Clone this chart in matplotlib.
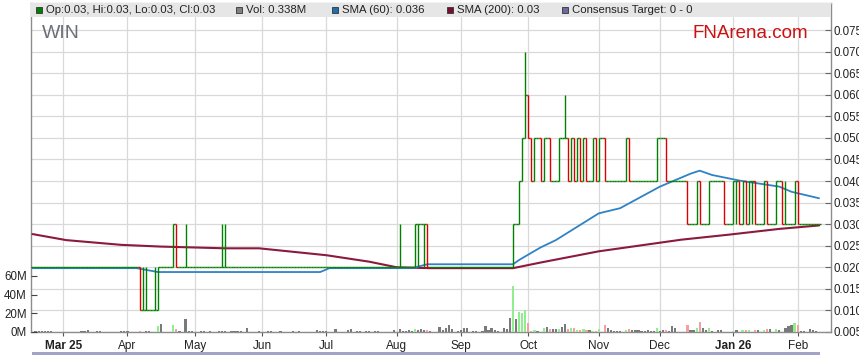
import numpy as np
import matplotlib
matplotlib.use('Agg')
import matplotlib.pyplot as plt
from matplotlib.collections import LineCollection
from matplotlib.patches import Rectangle
from matplotlib.ticker import FuncFormatter

plt.rcParams['font.family'] = ['Liberation Sans', 'DejaVu Sans']

# trading days counted from Mon 17 Feb 2025 (weekdays)
start = '2025-02-17'

# daily close in cents, 20 trading days per row
close_c = [
    2, 2, 2, 2, 2, 2, 2, 2, 2, 2, 2, 2, 2, 2, 2, 2, 2, 2, 2, 2,
    2, 2, 2, 2, 2, 2, 2, 2, 2, 2, 2, 2, 2, 2, 2, 1, 1, 1, 1, 1,
    1, 2, 2, 2, 2, 2, 3, 2, 2, 2, 2, 2, 2, 2, 2, 2, 2, 2, 2, 2,
    2, 2, 2, 2, 2, 2, 2, 2, 2, 2, 2, 2, 2, 2, 2, 2, 2, 2, 2, 2,
    2, 2, 2, 2, 2, 2, 2, 2, 2, 2, 2, 2, 2, 2, 2, 2, 2, 2, 2, 2,
    2, 2, 2, 2, 2, 2, 2, 2, 2, 2, 2, 2, 2, 2, 2, 2, 2, 2, 2, 2,
    2, 2, 2, 2, 2, 3, 3, 3, 3, 2, 2, 2, 2, 2, 2, 2, 2, 2, 2, 2,
    2, 2, 2, 2, 2, 2, 2, 2, 2, 2, 2, 2, 2, 2, 2, 2, 2, 3, 3, 4,
    5, 6, 5, 4, 5, 5, 4, 5, 5, 4, 4, 4, 5, 5, 5, 4, 5, 4, 5, 4,
    5, 4, 4, 5, 4, 5, 5, 4, 4, 4, 4, 4, 4, 4, 5, 4, 4, 4, 4, 4,
    4, 4, 4, 4, 5, 5, 5, 4, 4, 4, 4, 4, 4, 4, 3, 3, 3, 4, 3, 3,
    3, 4, 4, 4, 4, 4, 3, 3, 3, 4, 4, 3, 4, 3, 4, 4, 3, 3, 3, 4,
    3, 3, 3, 4, 4, 3, 3, 3, 3, 4, 3, 3, 3, 3, 3, 3, 3, 3,
]
# intraday extremes (cents) on days where they differ from open/close
high_extra = {36: 2, 37: 2, 40: 2, 50: 3, 62: 3, 63: 3, 120: 3, 161: 7, 174: 6, 246: 4}
low_extra = {126: 2, 128: 2, 230: 3, 235: 3}

# daily volume in millions
volume = [
    0, 0.8, 0.8, 0.8, 0.8, 0.8, 1.5, 0, 0, 0, 0, 0, 0, 0, 0, 0, 1, 1, 2, 0,
    0, 1, 1, 0, 0, 0, 0, 0, 0, 0.8, 0.8, 0.8, 0, 0, 0, 1, 0, 1.5, 0.8, 0,
    0, 6.8, 8.9, 0, 0, 0, 7.8, 3.2, 0.8, 0, 14.3, 1.5, 0.8, 0, 0, 0.8, 0.8, 0, 0.8, 0,
    0, 1, 1.5, 1.5, 0, 1, 1.5, 1, 1, 0, 4.3, 0, 0, 0, 1, 0, 0, 1, 1.5, 0,
    0, 1.5, 0, 0, 0, 1, 0, 1, 0, 0, 0, 0, 0, 2, 1.5, 1.5, 1, 0, 0, 3.2,
    0, 0, 0, 2, 3.2, 0, 1.5, 1.5, 0, 1, 1, 0, 1, 1, 0, 0, 0, 0, 2, 0,
    3.2, 1.5, 1.5, 2, 1, 3.2, 2, 3.2, 2.5, 2, 1, 0, 0, 5.7, 2, 4.3, 7.8, 3.2, 0, 1,
    2, 4.3, 4.3, 0, 1, 1, 0, 1, 6.8, 2, 4.3, 2, 1, 0, 4.3, 3.2, 15.3, 49.6, 14.3, 21.8,
    20, 23.5, 9.3, 1.5, 2, 1.5, 0, 4.3, 5.4, 3.2, 3.2, 3.2, 3.2, 5.4, 8.9, 3.2, 4.3, 4.3, 2, 2,
    3.2, 2, 2, 1.5, 1.5, 3.2, 0, 7.5, 4.3, 2, 1.5, 1, 1, 0, 2, 3.6, 2, 2, 2, 1.5,
    1.5, 2, 1.5, 1.5, 4.6, 1.5, 2, 2, 1, 6.8, 4.6, 0, 0, 0, 7.8, 2, 2, 4.6, 11, 4.6,
    2, 4.6, 1, 0, 2, 2, 0, 0, 0, 1, 2, 0, 2, 2, 2, 0, 2, 2, 0, 2,
    3, 3, 0, 3.6, 2, 0, 4.6, 6.8, 7.8, 10, 7.8, 1, 1, 0, 3.6, 2, 1, 0.338,
]

# moving averages (trading day, price)
sma60_day = [0, 34, 41, 74, 94, 97, 124, 129, 157, 159, 166, 171, 185, 192, 205, 215, 218, 222, 231, 244, 248, 257]
sma60 = [0.0198, 0.0198, 0.0189, 0.0189, 0.0189, 0.0198, 0.0198, 0.0207, 0.0207, 0.0217, 0.0246,
         0.0263, 0.0325, 0.0337, 0.0387, 0.0417, 0.0424, 0.0414, 0.0401, 0.0387, 0.0375, 0.0360]
sma200_day = [0, 11, 29, 42, 63, 74, 96, 110, 119, 130, 157, 166, 185, 205, 212, 228, 244, 257]
sma200 = [0.0277, 0.0263, 0.0252, 0.0248, 0.0244, 0.0244, 0.0228, 0.0213, 0.0200, 0.0198,
          0.0198, 0.0211, 0.0237, 0.0257, 0.0264, 0.0276, 0.0289, 0.0297]

month_dates = ['2025-03-03', '2025-04-01', '2025-05-01', '2025-06-02', '2025-07-01', '2025-08-01',
               '2025-09-01', '2025-10-01', '2025-11-03', '2025-12-01', '2026-01-02', '2026-02-02']
month_labels = ['Mar 25', 'Apr', 'May', 'Jun', 'Jul', 'Aug', 'Sep', 'Oct', 'Nov', 'Dec', 'Jan 26', 'Feb']

GREEN = '#008000'
RED = '#dd0000'

close = np.array(close_c) / 100.0
n = len(close)
opn = np.concatenate([[close[0]], close[:-1]])
high = np.maximum(opn, close)
low = np.minimum(opn, close)
for d, v in high_extra.items():
    high[d] = v / 100.0
for d, v in low_extra.items():
    low[d] = v / 100.0

W, H = 859, 363
fig = plt.figure(figsize=(W / 100, H / 100), dpi=100)
ax = fig.add_axes([31 / W, (H - 332) / H, 800 / W, 329 / H])
axv = ax.twinx()

# grid
ax.set_axisbelow(True)
ax.grid(True, color='#d9d9d9', lw=0.9)

# candles drawn as steps
segs, cols = [], []
for i in range(n):
    o, c = opn[i], close[i]
    col = RED if c < o else GREEN
    segs += [[(i - 0.5, o), (i, o)], [(i, c), (i + 0.5, c)], [(i, low[i]), (i, high[i])]]
    cols += [col, col, col]
ax.add_collection(LineCollection(segs, colors=cols, linewidths=1.0, zorder=4))

ax.plot(sma200_day, sma200, color='#8b1a3c', lw=1.5, zorder=3, solid_capstyle='round')
ax.plot(sma60_day, sma60, color='#2f82c4', lw=1.3, zorder=3, solid_capstyle='round')

xmax = 260.9
ax.set_xlim(-0.5, xmax)
ax.set_ylim(0.005, 0.005 + 329 / 21.57 * 0.005)
ax.yaxis.tick_right()
ax.yaxis.set_label_position('right')
ax.set_yticks(np.arange(0.005, 0.0751, 0.005))
ax.yaxis.set_major_formatter(FuncFormatter(lambda v, p: '%.3f' % v))
ax.tick_params(axis='y', direction='in', length=4, width=0.8, color='#666666',
               labelsize=8.3, pad=2, labelcolor='#222222')

month_pos = np.busday_count(start, month_dates)
ax.set_xticks(month_pos)
ax.set_xticklabels(month_labels)
for lab in ax.get_xticklabels():
    if ' ' in lab.get_text():
        lab.set_fontweight('bold')
ax.tick_params(axis='x', direction='out', length=3, width=0.8, color='#555555',
               labelsize=8.5, pad=3, labelcolor='#222222')

for side in ['left', 'right', 'bottom', 'top']:
    ax.spines[side].set_color('#8c8c8c')
    ax.spines[side].set_linewidth(1.0)
ax.spines['top'].set_color('#c8c8c8')

# volume on its own scale, left axis
axv.set_zorder(ax.get_zorder() + 1)
axv.patch.set_visible(False)
days = np.arange(n)
vcol = ['#90ee90' if c > o else ('#f4a0a0' if c < o else '#7a7a7a') for o, c in zip(opn, close)]
axv.bar(days, volume, width=0.72, color=vcol, linewidth=0, zorder=2)
axv.set_ylim(0, 329 / 18.7 * 20)
axv.set_xlim(-0.5, xmax)
axv.yaxis.tick_left()
axv.yaxis.set_label_position('left')
axv.set_yticks([0, 20, 40, 60])
axv.set_yticklabels(['0M', '20M', '40M', '60M'])
axv.tick_params(axis='y', direction='in', length=4, width=0.8, color='#444444',
                labelsize=8.3, pad=3, labelcolor='#222222')
for side in ['left', 'right', 'bottom', 'top']:
    axv.spines[side].set_visible(False)

# legend band at the top of the plot
ax.add_patch(Rectangle((0, 1 - 14 / 329), 1, 14 / 329, transform=ax.transAxes,
                       facecolor='#e6e6e6', edgecolor='none', zorder=6, clip_on=False))
legend = [(36, GREEN, 'Op:0.03, Hi:0.03, Lo:0.03, Cl:0.03'),
          (236, '#808080', 'Vol: 0.338M'),
          (332, '#1f6fb0', 'SMA (60): 0.036'),
          (447, '#7a0e2e', 'SMA (200): 0.03'),
          (562, '#6a6aa0', 'Consensus Target: 0 - 0')]
for px, c, t in legend:
    fig.patches.append(Rectangle((px / W, (H - 13) / H), 6 / W, 6 / H, transform=fig.transFigure,
                                 facecolor=c, edgecolor='#333333', lw=0.6, zorder=10))
    fig.text((px + 10) / W, (H - 10) / H, t, fontsize=8.2, color='#222222', va='center', zorder=11)

fig.text(42 / W, (H - 33) / H, 'WIN', fontsize=14, color='#6a6f78', va='center')
fig.text(693 / W, (H - 33) / H, 'FNArena.com', fontsize=13.5, color='#cc1111', va='center')

# scroll bar under the date axis
fig.patches.append(Rectangle((32 / W, (H - 355) / H), 788 / W, 3 / H, transform=fig.transFigure,
                             facecolor='#a3a3c8', edgecolor='none'))

fig.savefig('out.png', dpi=100)
